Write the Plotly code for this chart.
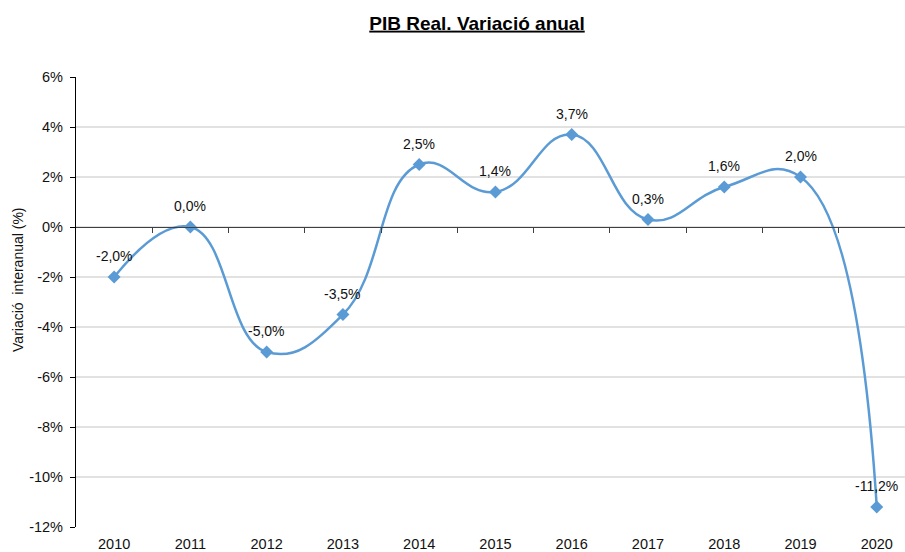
import plotly.graph_objects as go

years = ["2010", "2011", "2012", "2013", "2014", "2015", "2016", "2017", "2018", "2019", "2020"]
values = [-2.0, 0.0, -5.0, -3.5, 2.5, 1.4, 3.7, 0.3, 1.6, 2.0, -11.2]
labels = ["-2,0%", "0,0%", "-5,0%", "-3,5%", "2,5%", "1,4%", "3,7%", "0,3%", "1,6%", "2,0%", "-11,2%"]
ytick_vals = [6, 4, 2, 0, -2, -4, -6, -8, -10, -12]
ytick_text = ["6%", "4%", "2%", "0%", "-2%", "-4%", "-6%", "-8%", "-10%", "-12%"]

FONT = "Liberation Sans, Arial, sans-serif"
COLOR = "#5B9BD5"
xs = list(range(len(years)))

fig = go.Figure()
fig.add_trace(go.Scatter(
    x=xs, y=values, mode="lines+markers",
    line=dict(color=COLOR, width=2.5, shape="spline", smoothing=1.3),
    marker=dict(symbol="diamond", size=10, color=COLOR),
    hoverinfo="skip", showlegend=False,
))
fig.add_trace(go.Scatter(x=[0], y=[0], xaxis="x2", mode="markers",
                         marker=dict(opacity=0), showlegend=False, hoverinfo="skip"))

for x, v, t in zip(xs, values, labels):
    fig.add_annotation(x=x, y=v, text=t, showarrow=False, yshift=21,
                       font=dict(family=FONT, size=14, color="#111111"))

fig.add_annotation(xref="paper", yref="paper", x=(18 - 76) / 829, y=0.549,
                   text="Variació  interanual (%)", textangle=-90, showarrow=False,
                   xanchor="center", yanchor="middle",
                   font=dict(family=FONT, size=14, color="#111111"))

xr = [-0.5, 10.37]
zero_pos = (0 - (-12)) / (6 - (-12))

fig.update_layout(
    width=905, height=552,
    margin=dict(l=76, r=0, t=77, b=25, autoexpand=False),
    paper_bgcolor="white", plot_bgcolor="white",
    font=dict(family=FONT, size=14, color="#111111"),
    title=dict(text="<b><u>PIB Real. Variació anual</u></b>", x=477 / 905, xanchor="center",
               y=1 - 23 / 552, yanchor="middle", font=dict(family=FONT, size=19, color="#000000")),
    xaxis=dict(range=xr, tickvals=xs, ticktext=years, showgrid=False, zeroline=False,
               showline=False, ticks="outside", ticklen=4, tickcolor="rgba(0,0,0,0)",
               tickfont=dict(size=14.5)),
    xaxis2=dict(range=xr, overlaying="x", anchor="free", position=zero_pos,
                tickvals=[i + 0.5 for i in range(10)], showticklabels=False,
                ticks="outside", ticklen=5, tickcolor="#404040", showline=True,
                linecolor="#404040", linewidth=1, showgrid=False, zeroline=False),
    yaxis=dict(range=[-12, 6], tickvals=ytick_vals, ticktext=ytick_text,
               showgrid=True, gridcolor="#E2E2E2", gridwidth=1.5, zeroline=False,
               showline=True, linecolor="#000000", linewidth=1.2,
               ticks="outside", ticklen=5, tickcolor="#000000",
               ticklabelstandoff=4, tickfont=dict(size=14.5)),
)

fig.write_html("out.html", config={"displayModeBar": False},
               post_script="document.body.style.margin='0';")
